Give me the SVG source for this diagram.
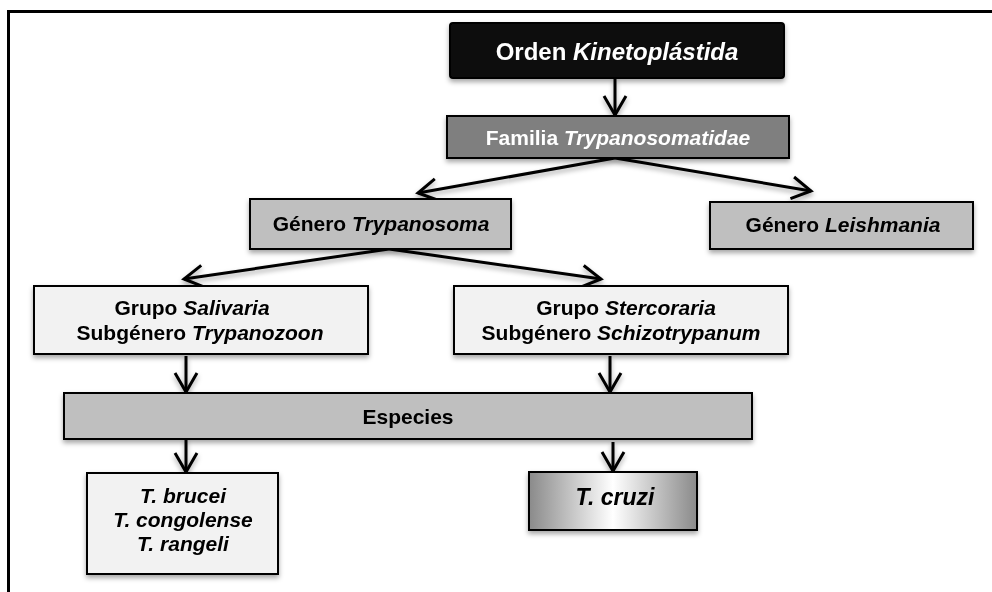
<svg xmlns="http://www.w3.org/2000/svg" width="992" height="592" viewBox="0 0 992 592">
<style>
.box{stroke:#000;stroke-width:2}
.t{font-family:"Liberation Sans",Arial,sans-serif;font-weight:bold;font-size:21px;text-anchor:middle;fill:#000}
.w{fill:#fff}
.i{font-style:italic}
.c{fill:none;stroke:#000;stroke-width:3;marker-end:url(#ah)}
</style>
<defs>
<marker id="ah" viewBox="0 0 24 26" refX="21" refY="13" markerWidth="24" markerHeight="26" markerUnits="userSpaceOnUse" orient="auto">
<path d="M2,2 L21,13 L2,24" fill="none" stroke="#000" stroke-width="3" stroke-linejoin="miter"/>
</marker>
<filter id="sh" x="-10%" y="-20%" width="120%" height="150%">
<feDropShadow dx="0" dy="3" stdDeviation="2.5" flood-color="#000" flood-opacity="0.35"/>
</filter>
<linearGradient id="gc" x1="0" y1="0" x2="1" y2="0">
<stop offset="0" stop-color="#8a8a8a"/>
<stop offset="0.5" stop-color="#ffffff"/>
<stop offset="1" stop-color="#8a8a8a"/>
</linearGradient>
</defs>
<rect x="0" y="0" width="992" height="592" fill="#fff"/>
<path d="M8.5,600 V11.5 H1000" fill="none" stroke="#000" stroke-width="3"/>
<g id="connectors" filter="url(#sh)">
<line class="c" x1="615" y1="78" x2="615" y2="115"/>
<line class="c" x1="615" y1="158" x2="418" y2="193"/>
<line class="c" x1="615" y1="158" x2="811" y2="191"/>
<line class="c" x1="389" y1="249" x2="184" y2="279"/>
<line class="c" x1="389" y1="249" x2="601" y2="279"/>
<line class="c" x1="186" y1="356" x2="186" y2="392"/>
<line class="c" x1="610" y1="356" x2="610" y2="392"/>
<line class="c" x1="186" y1="439" x2="186" y2="472"/>
<line class="c" x1="613" y1="442" x2="613" y2="471"/>
</g>
<g id="orden" filter="url(#sh)">
<rect class="box" x="450" y="23" width="334" height="55" rx="3" fill="#0d0d0d"/>
<text class="t w" x="617" y="60" style="font-size:24px">Orden <tspan class="i">Kinetoplástida</tspan></text>
</g>
<g id="familia" filter="url(#sh)">
<rect class="box" x="447" y="116" width="342" height="42" fill="#7f7f7f"/>
<text class="t w" x="618" y="145">Familia <tspan class="i">Trypanosomatidae</tspan></text>
</g>
<g id="trypanosoma" filter="url(#sh)">
<rect class="box" x="250" y="199" width="261" height="50" fill="#bfbfbf"/>
<text class="t" x="381" y="231">Género <tspan class="i">Trypanosoma</tspan></text>
</g>
<g id="leishmania" filter="url(#sh)">
<rect class="box" x="710" y="202" width="263" height="47" fill="#bfbfbf"/>
<text class="t" x="843" y="232">Género <tspan class="i">Leishmania</tspan></text>
</g>
<g id="salivaria" filter="url(#sh)">
<rect class="box" x="34" y="286" width="334" height="68" fill="#f2f2f2"/>
<text class="t" x="192" y="315">Grupo <tspan class="i">Salivaria</tspan></text>
<text class="t" x="200" y="340">Subgénero <tspan class="i">Trypanozoon</tspan></text>
</g>
<g id="stercoraria" filter="url(#sh)">
<rect class="box" x="454" y="286" width="334" height="68" fill="#f2f2f2"/>
<text class="t" x="626" y="315">Grupo <tspan class="i">Stercoraria</tspan></text>
<text class="t" x="621" y="340">Subgénero <tspan class="i">Schizotrypanum</tspan></text>
</g>
<g id="especies" filter="url(#sh)">
<rect class="box" x="64" y="393" width="688" height="46" fill="#bfbfbf"/>
<text class="t" x="408" y="424">Especies</text>
</g>
<g id="brucei" filter="url(#sh)">
<rect class="box" x="87" y="473" width="191" height="101" fill="#f2f2f2"/>
<text class="t i" x="183" y="503">T. brucei</text>
<text class="t i" x="183" y="527">T. congolense</text>
<text class="t i" x="183" y="551">T. rangeli</text>
</g>
<g id="cruzi" filter="url(#sh)">
<rect class="box" x="529" y="472" width="168" height="58" fill="url(#gc)"/>
<text class="t i" x="615" y="505" style="font-size:23px">T. cruzi</text>
</g>
</svg>
